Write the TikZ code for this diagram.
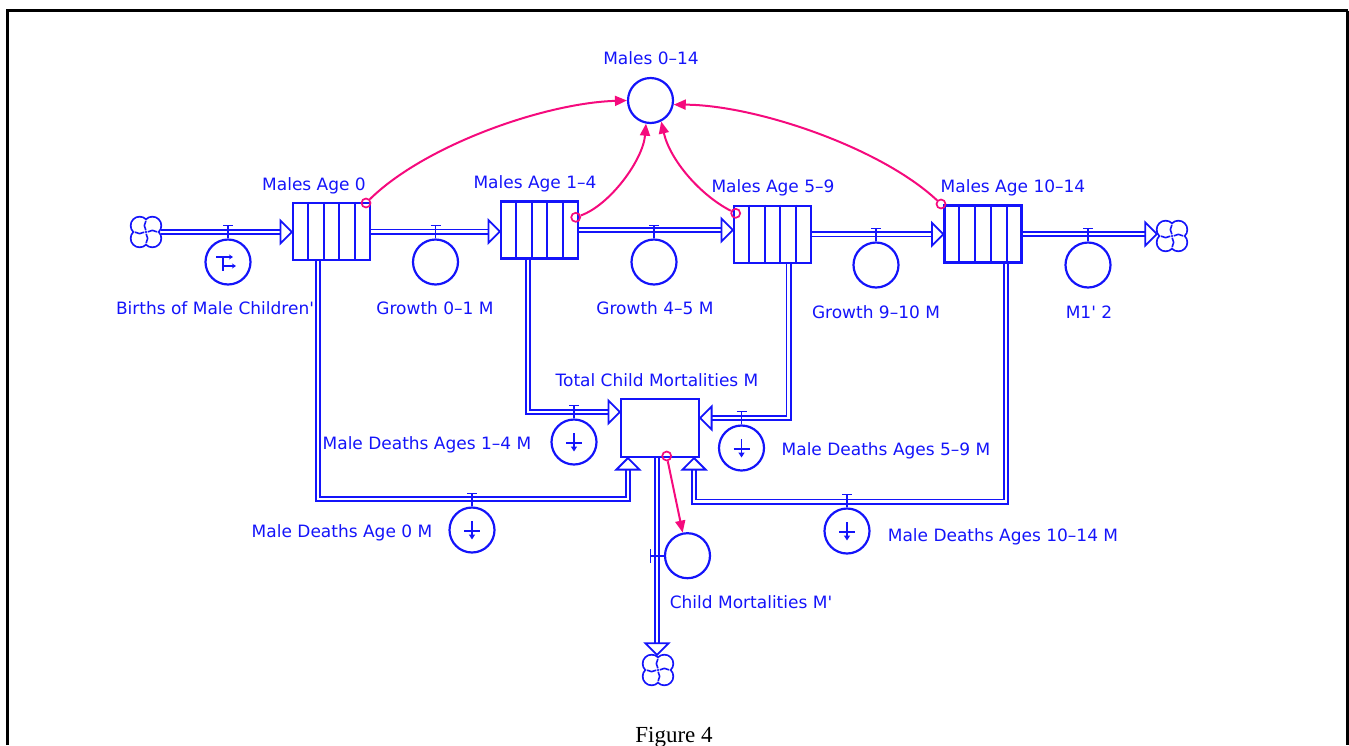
\documentclass[tikz,border=0pt]{standalone}
\usepackage{fontspec}
\newfontfamily\labfont{DejaVu Sans}
\newfontfamily\capfont{Liberation Serif}
\usetikzlibrary{arrows.meta,calc}
\definecolor{fblue}{RGB}{20,20,250}
\definecolor{lpink}{RGB}{245,10,125}
\tikzset{
  phead/.pic={\draw[fblue,fill=white,line width=1.8pt,line join=miter] (0,0) -- (-11.5pt,11.5pt) -- (-11.5pt,-11.5pt) -- cycle;}
}
\newcommand\stockdiv[1]{\foreach \f in {0.2,0.4,0.6,0.8}{\draw[fblue,line width=2pt] ($(#1.north west)!\f!(#1.north east)$) -- ($(#1.south west)!\f!(#1.south east)$);}}
\newcommand\drawcloud[1]{%
  \foreach \a in {45,135,225,315}{\draw[fblue,line width=3.6pt] ([shift={(\a:9pt)}]#1.center) circle (8pt);}
  \foreach \a in {45,135,225,315}{\fill[white] ([shift={(\a:9pt)}]#1.center) circle (8pt);}
  \foreach \a in {45,135,225,315}{\draw[fblue,line width=1.6pt] ([shift={(\a:9pt)}]#1.center) ++({\a+100}:8pt) arc[start angle={\a+100},delta angle=70,radius=8pt];}}
\newcommand\teeup[1]{\draw[fblue,line width=1.6pt] (#1.north) -- ++(0pt,13pt) coordinate (#1-t); \draw[fblue,line width=1.6pt] ([xshift=-5pt]#1-t) -- ([xshift=5pt]#1-t);}
\newcommand\deathicon[1]{\draw[fblue,line width=1.6pt,-{Triangle[length=5pt,width=6pt]}] ([yshift=9pt]#1.center) -- ([yshift=-9.5pt]#1.center); \draw[fblue,line width=1.6pt] ([shift={(-8pt,-1pt)}]#1.center) -- ([shift={(8pt,-1pt)}]#1.center);}
\begin{document}
\begin{tikzpicture}[x=1pt,y=-1pt,
  stock/.style={draw=fblue,line width=2.2pt,minimum width=77pt,minimum height=57pt,inner sep=0pt},
  conv/.style={draw=fblue,line width=2.2pt,minimum width=78pt,minimum height=58pt,inner sep=0pt},
  valve/.style={circle,draw=fblue,line width=2.2pt,minimum size=45pt,inner sep=0pt},
  cloudpt/.style={circle,minimum size=30pt,inner sep=0pt},
  pipe/.style={draw=fblue,line width=1.7pt,double=white,double distance=2.6pt},
  lab/.style={text=fblue,font=\labfont\fontsize{17}{20}\selectfont,anchor=base,inner sep=0pt},
  link/.style={draw=lpink,line width=2pt,-{Triangle[length=12pt,width=10pt]}},
  lorig/.style={circle,draw=lpink,line width=1.7pt,minimum size=9pt,inner sep=0pt},
]
\useasboundingbox (0,0) rectangle (1349,745);
% frame
\draw[black,line width=3pt,line join=miter] (7.5,745) -- (7.5,10.5) -- (1347.5,10.5);
\draw[black,line width=2.5pt] (1347.5,10.5) -- (1347.5,745);

% stocks
\node[stock] (s0) at (331.5,231.5) {};
\node[stock] (s1) at (539.5,230) {};
\node[stock] (s2) at (772.5,234.2) {};
\node[stock] (s3) at (983,234) {};
\node[conv] (tb) at (660,428) {};
\node[valve] (m014) at (650.5,100.5) {};

% clouds
\node[cloudpt] (cL) at (146,232) {};
\node[cloudpt] (cR) at (1172,236) {};
\node[cloudpt] (cB) at (658,670) {};
\drawcloud{cL}
\drawcloud{cR}
\drawcloud{cB}

% flow valves
\node[valve] (vB) at (228,262) {};
\node[valve] (vG01) at (435.5,262) {};
\node[valve] (vG45) at (654,262) {};
\node[valve] (vG910) at (876,265) {};
\node[valve] (vM) at (1088,265) {};
\node[valve] (vD14) at (574,442) {};
\node[valve] (vD59) at (741.5,448) {};
\node[valve] (vD0) at (472,530) {};
\node[valve] (vD1014) at (847,531) {};
\node[valve] (vCM) at (687.5,555.7) {};

% pipes (top row)
\draw[pipe] (cL.east) -- ([xshift=-11.5pt]cL.east -| s0.west);
\pic at (cL.east -| s0.west) {phead};
\draw[pipe] (s0.east) -- ([xshift=-11.5pt]s0.east -| s1.west);
\pic at (s0.east -| s1.west) {phead};
\draw[pipe] (s1.east) -- ([xshift=-11.5pt]s1.east -| s2.west);
\pic at (s1.east -| s2.west) {phead};
\draw[pipe] (s2.east) -- ([xshift=-11.5pt]s2.east -| s3.west);
\pic at (s2.east -| s3.west) {phead};
\draw[pipe] (s3.east) -- ([xshift=-11.5pt]s3.east -| cR.west);
\pic at (s3.east -| cR.west) {phead};

% pipes (deaths)
\coordinate (a0) at ([xshift=8pt]tb.south west);
\coordinate (a1) at ([yshift=16pt]tb.west);
\coordinate (a2) at ([yshift=10pt]tb.east);
\coordinate (a3) at ([xshift=-6pt]tb.south east);
\coordinate (tbo) at ([xshift=-3pt]tb.south);
\draw[pipe] ([xshift=-13.5pt]s0.south) |- ([yshift=-41pt]a0) -- ([yshift=-12pt]a0);
\pic[rotate=90] at (a0) {phead};
\draw[pipe] ([xshift=-11.5pt]s1.south) |- ([xshift=-11.5pt]a1);
\pic at (a1) {phead};
\draw[pipe] ([xshift=16pt]s2.south) |- ([xshift=11.5pt]a2);
\pic[rotate=180] at (a2) {phead};
\draw[pipe] ([xshift=23pt]s3.south) |- ([yshift=-43.5pt]a3) -- ([yshift=-12pt]a3);
\pic[rotate=90] at (a3) {phead};
\draw[pipe] (tbo) -- ([yshift=10pt]tbo |- cB.north);
\pic[rotate=-90] at (tbo |- cB.north) {phead};

% stock dividers
\stockdiv{s0}
\stockdiv{s1}
\stockdiv{s2}
\stockdiv{s3}

% valve tees
\teeup{vB}
\teeup{vG01}
\teeup{vG45}
\teeup{vG910}
\teeup{vM}
\teeup{vD14}
\teeup{vD59}
\teeup{vD0}
\teeup{vD1014}
\draw[fblue,line width=1.6pt] (vCM.west) -- ++(-13.5pt,0pt) coordinate (vCM-t);
\draw[fblue,line width=1.6pt] ([yshift=-7pt]vCM-t) -- ([yshift=7pt]vCM-t);

% valve icons
\draw[fblue,line width=1.6pt,-{Stealth[length=4pt,width=5pt]}] ([shift={(-12pt,5pt)}]vB.center) -- ++(17pt,0pt);
\draw[fblue,line width=1.6pt] ([shift={(-5pt,5pt)}]vB.center) -- ++(0pt,-14pt);
\draw[fblue,line width=1.6pt,-{Stealth[length=4pt,width=5pt]}] ([shift={(-5pt,-4pt)}]vB.center) -- ++(13pt,0pt);
\deathicon{vD14}
\deathicon{vD59}
\deathicon{vD0}
\deathicon{vD1014}

% links
\node[lorig] (o0) at (366,203) {};
\node[lorig] (o1) at (575.7,217.3) {};
\node[lorig] (o2) at (735.7,213.3) {};
\node[lorig] (o3) at (941,204) {};
\node[lorig] (o4) at (666.7,456) {};
\draw[link] (o0) .. controls (425,145) and (545,103) .. (m014.west);
\draw[link] (o1) .. controls (610,205) and (643,160) .. (m014.-101);
\draw[link] (o2) .. controls (700,195) and (670,160) .. (m014.-63);
\draw[link] (o3) .. controls (880,147) and (755,105) .. (m014.-10);
\draw[link] (o4) -- (vCM);

% labels
\node[lab] (l-m014) at (651,64.5) {Males 0–14};
\node[lab] (l-s0) at (314,190.5) {Males Age 0};
\node[lab] (l-s1) at (535,188.5) {Males Age 1–4};
\node[lab] (l-s2) at (773,192.5) {Males Age 5–9};
\node[lab] (l-s3) at (1013,192.5) {Males Age 10–14};
\node[lab] (l-vB) at (215,314.5) {Births of Male Children\textquotesingle};
\node[lab] (l-vG01) at (435,314.5) {Growth 0–1 M};
\node[lab] (l-vG45) at (655,314.5) {Growth 4–5 M};
\node[lab] (l-vG910) at (876,318.5) {Growth 9–10 M};
\node[lab] (l-vM) at (1089,318.5) {M1\textquotesingle\ 2};
\node[lab] (l-tb) at (657,386.5) {Total Child Mortalities M};
\node[lab] (l-vD14) at (427,449.5) {Male Deaths Ages 1–4 M};
\node[lab] (l-vD59) at (886,455.5) {Male Deaths Ages 5–9 M};
\node[lab] (l-vD0) at (342,537.5) {Male Deaths Age 0 M};
\node[lab] (l-vD1014) at (1003,541.5) {Male Deaths Ages 10–14 M};
\node[lab] (l-vCM) at (751,608.5) {Child Mortalities M\textquotesingle};
\node[anchor=base,inner sep=0pt,font=\capfont\fontsize{23}{26}\selectfont] (cap) at (674,742) {Figure 4};
\end{tikzpicture}
\end{document}
